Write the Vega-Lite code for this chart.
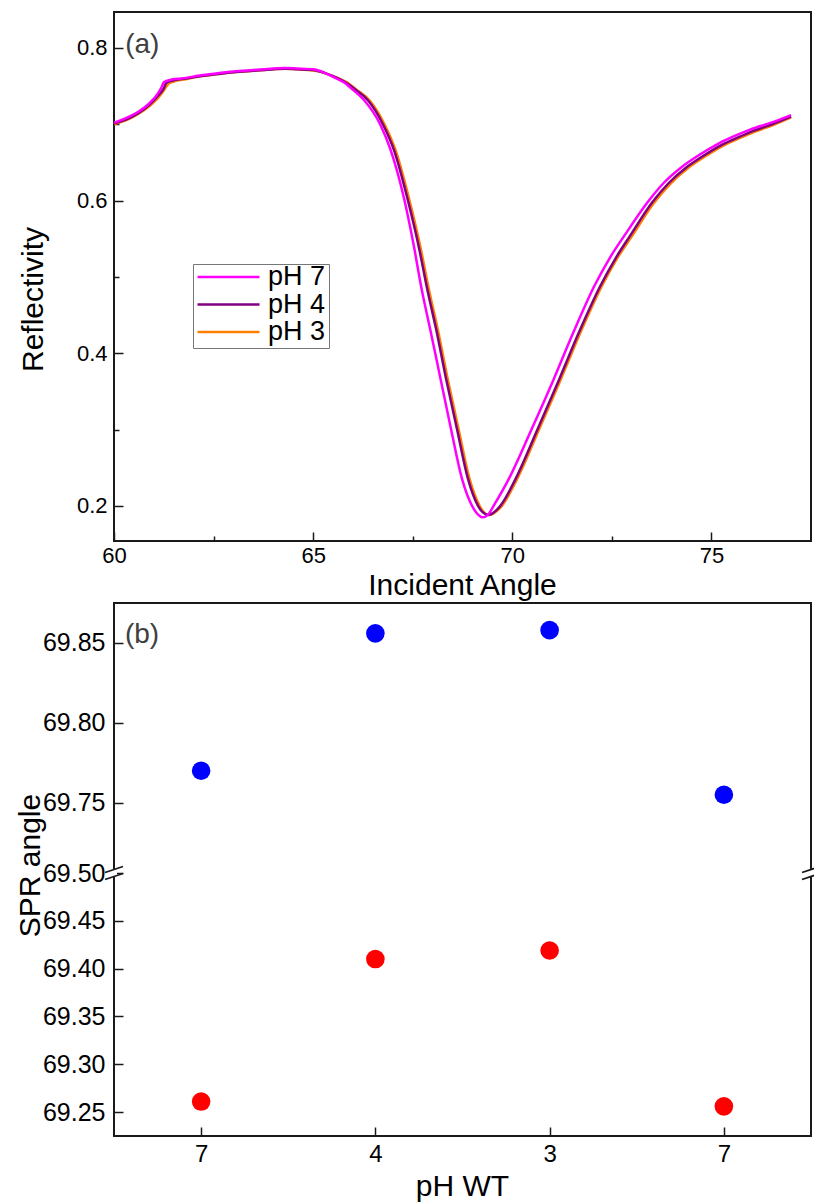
{
  "$schema": "https://vega.github.io/schema/vega-lite/v6.json",
  "autosize": {"type": "pad"},
  "padding": {"left": 14, "top": 11, "right": 2, "bottom": 0},
  "background": "white",
  "spacing": 62,
  "bounds": "flush",
  "resolve": {"scale": {"color": "independent"}, "legend": {"color": "independent"}},
  "datasets": {
    "curves": [
      {"pH": "pH 3", "angle": 60.0, "r": 0.700}, {"pH": "pH 3", "angle": 60.3, "r": 0.705}, {"pH": "pH 3", "angle": 60.6, "r": 0.713},
      {"pH": "pH 3", "angle": 60.9, "r": 0.724}, {"pH": "pH 3", "angle": 61.1, "r": 0.734}, {"pH": "pH 3", "angle": 61.25, "r": 0.744},
      {"pH": "pH 3", "angle": 61.35, "r": 0.752}, {"pH": "pH 3", "angle": 61.5, "r": 0.756}, {"pH": "pH 3", "angle": 61.8, "r": 0.759},
      {"pH": "pH 3", "angle": 62.2, "r": 0.763}, {"pH": "pH 3", "angle": 62.5, "r": 0.765}, {"pH": "pH 3", "angle": 63.0, "r": 0.768},
      {"pH": "pH 3", "angle": 63.5, "r": 0.770}, {"pH": "pH 3", "angle": 64.0, "r": 0.772}, {"pH": "pH 3", "angle": 64.3, "r": 0.7725},
      {"pH": "pH 3", "angle": 64.6, "r": 0.772}, {"pH": "pH 3", "angle": 65.0, "r": 0.7705}, {"pH": "pH 3", "angle": 65.3, "r": 0.767},
      {"pH": "pH 3", "angle": 65.5, "r": 0.763}, {"pH": "pH 3", "angle": 65.9, "r": 0.753}, {"pH": "pH 3", "angle": 66.1, "r": 0.745},
      {"pH": "pH 3", "angle": 66.42, "r": 0.731}, {"pH": "pH 3", "angle": 66.8, "r": 0.699}, {"pH": "pH 3", "angle": 67.07, "r": 0.666},
      {"pH": "pH 3", "angle": 67.42, "r": 0.600}, {"pH": "pH 3", "angle": 67.71, "r": 0.535}, {"pH": "pH 3", "angle": 67.90, "r": 0.485},
      {"pH": "pH 3", "angle": 68.13, "r": 0.431}, {"pH": "pH 3", "angle": 68.38, "r": 0.366}, {"pH": "pH 3", "angle": 68.65, "r": 0.301},
      {"pH": "pH 3", "angle": 68.93, "r": 0.235}, {"pH": "pH 3", "angle": 69.18, "r": 0.200}, {"pH": "pH 3", "angle": 69.28, "r": 0.192},
      {"pH": "pH 3", "angle": 69.42, "r": 0.188}, {"pH": "pH 3", "angle": 69.58, "r": 0.192}, {"pH": "pH 3", "angle": 69.74, "r": 0.200},
      {"pH": "pH 3", "angle": 70.12, "r": 0.235}, {"pH": "pH 3", "angle": 70.68, "r": 0.301}, {"pH": "pH 3", "angle": 71.22, "r": 0.366},
      {"pH": "pH 3", "angle": 71.72, "r": 0.428}, {"pH": "pH 3", "angle": 72.25, "r": 0.488}, {"pH": "pH 3", "angle": 72.63, "r": 0.524},
      {"pH": "pH 3", "angle": 73.0, "r": 0.553}, {"pH": "pH 3", "angle": 73.56, "r": 0.597}, {"pH": "pH 3", "angle": 73.95, "r": 0.621},
      {"pH": "pH 3", "angle": 74.40, "r": 0.642}, {"pH": "pH 3", "angle": 74.82, "r": 0.657}, {"pH": "pH 3", "angle": 75.30, "r": 0.672},
      {"pH": "pH 3", "angle": 75.72, "r": 0.682}, {"pH": "pH 3", "angle": 76.08, "r": 0.690}, {"pH": "pH 3", "angle": 76.55, "r": 0.699},
      {"pH": "pH 3", "angle": 77.0, "r": 0.709},

      {"pH": "pH 4", "angle": 60.0, "r": 0.701}, {"pH": "pH 4", "angle": 60.3, "r": 0.706}, {"pH": "pH 4", "angle": 60.6, "r": 0.714},
      {"pH": "pH 4", "angle": 60.9, "r": 0.726}, {"pH": "pH 4", "angle": 61.1, "r": 0.737}, {"pH": "pH 4", "angle": 61.25, "r": 0.747},
      {"pH": "pH 4", "angle": 61.31, "r": 0.754}, {"pH": "pH 4", "angle": 61.45, "r": 0.757}, {"pH": "pH 4", "angle": 61.8, "r": 0.760},
      {"pH": "pH 4", "angle": 62.2, "r": 0.763}, {"pH": "pH 4", "angle": 62.5, "r": 0.765}, {"pH": "pH 4", "angle": 63.0, "r": 0.768},
      {"pH": "pH 4", "angle": 63.5, "r": 0.770}, {"pH": "pH 4", "angle": 64.0, "r": 0.772}, {"pH": "pH 4", "angle": 64.3, "r": 0.7727},
      {"pH": "pH 4", "angle": 64.6, "r": 0.772}, {"pH": "pH 4", "angle": 65.0, "r": 0.771}, {"pH": "pH 4", "angle": 65.3, "r": 0.767},
      {"pH": "pH 4", "angle": 65.5, "r": 0.763}, {"pH": "pH 4", "angle": 65.87, "r": 0.753}, {"pH": "pH 4", "angle": 66.07, "r": 0.745},
      {"pH": "pH 4", "angle": 66.38, "r": 0.731}, {"pH": "pH 4", "angle": 66.76, "r": 0.699}, {"pH": "pH 4", "angle": 67.03, "r": 0.666},
      {"pH": "pH 4", "angle": 67.38, "r": 0.600}, {"pH": "pH 4", "angle": 67.67, "r": 0.535}, {"pH": "pH 4", "angle": 67.86, "r": 0.485},
      {"pH": "pH 4", "angle": 68.09, "r": 0.431}, {"pH": "pH 4", "angle": 68.34, "r": 0.366}, {"pH": "pH 4", "angle": 68.61, "r": 0.301},
      {"pH": "pH 4", "angle": 68.89, "r": 0.235}, {"pH": "pH 4", "angle": 69.14, "r": 0.200}, {"pH": "pH 4", "angle": 69.25, "r": 0.192},
      {"pH": "pH 4", "angle": 69.40, "r": 0.188}, {"pH": "pH 4", "angle": 69.55, "r": 0.192}, {"pH": "pH 4", "angle": 69.70, "r": 0.200},
      {"pH": "pH 4", "angle": 70.08, "r": 0.235}, {"pH": "pH 4", "angle": 70.64, "r": 0.301}, {"pH": "pH 4", "angle": 71.18, "r": 0.366},
      {"pH": "pH 4", "angle": 71.68, "r": 0.428}, {"pH": "pH 4", "angle": 72.21, "r": 0.488}, {"pH": "pH 4", "angle": 72.59, "r": 0.524},
      {"pH": "pH 4", "angle": 72.96, "r": 0.554}, {"pH": "pH 4", "angle": 73.52, "r": 0.598}, {"pH": "pH 4", "angle": 73.91, "r": 0.622},
      {"pH": "pH 4", "angle": 74.36, "r": 0.643}, {"pH": "pH 4", "angle": 74.78, "r": 0.658}, {"pH": "pH 4", "angle": 75.26, "r": 0.673},
      {"pH": "pH 4", "angle": 75.68, "r": 0.683}, {"pH": "pH 4", "angle": 76.04, "r": 0.691}, {"pH": "pH 4", "angle": 76.52, "r": 0.700},
      {"pH": "pH 4", "angle": 77.0, "r": 0.710},

      {"pH": "pH 7", "angle": 60.0, "r": 0.702}, {"pH": "pH 7", "angle": 60.3, "r": 0.708}, {"pH": "pH 7", "angle": 60.6, "r": 0.716},
      {"pH": "pH 7", "angle": 60.9, "r": 0.728}, {"pH": "pH 7", "angle": 61.1, "r": 0.740}, {"pH": "pH 7", "angle": 61.2, "r": 0.749},
      {"pH": "pH 7", "angle": 61.25, "r": 0.755}, {"pH": "pH 7", "angle": 61.4, "r": 0.758}, {"pH": "pH 7", "angle": 61.7, "r": 0.760},
      {"pH": "pH 7", "angle": 62.2, "r": 0.764}, {"pH": "pH 7", "angle": 62.5, "r": 0.766}, {"pH": "pH 7", "angle": 63.0, "r": 0.769},
      {"pH": "pH 7", "angle": 63.5, "r": 0.771}, {"pH": "pH 7", "angle": 64.0, "r": 0.773}, {"pH": "pH 7", "angle": 64.3, "r": 0.7735},
      {"pH": "pH 7", "angle": 64.6, "r": 0.773}, {"pH": "pH 7", "angle": 65.0, "r": 0.772}, {"pH": "pH 7", "angle": 65.3, "r": 0.767},
      {"pH": "pH 7", "angle": 65.5, "r": 0.762}, {"pH": "pH 7", "angle": 65.8, "r": 0.754}, {"pH": "pH 7", "angle": 66.0, "r": 0.745},
      {"pH": "pH 7", "angle": 66.27, "r": 0.732}, {"pH": "pH 7", "angle": 66.69, "r": 0.699}, {"pH": "pH 7", "angle": 66.94, "r": 0.667},
      {"pH": "pH 7", "angle": 67.29, "r": 0.601}, {"pH": "pH 7", "angle": 67.53, "r": 0.540}, {"pH": "pH 7", "angle": 67.72, "r": 0.485},
      {"pH": "pH 7", "angle": 67.94, "r": 0.431}, {"pH": "pH 7", "angle": 68.20, "r": 0.366}, {"pH": "pH 7", "angle": 68.46, "r": 0.301},
      {"pH": "pH 7", "angle": 68.74, "r": 0.235}, {"pH": "pH 7", "angle": 68.99, "r": 0.200}, {"pH": "pH 7", "angle": 69.10, "r": 0.191},
      {"pH": "pH 7", "angle": 69.25, "r": 0.185}, {"pH": "pH 7", "angle": 69.40, "r": 0.189}, {"pH": "pH 7", "angle": 69.53, "r": 0.200},
      {"pH": "pH 7", "angle": 69.91, "r": 0.235}, {"pH": "pH 7", "angle": 70.49, "r": 0.301}, {"pH": "pH 7", "angle": 71.04, "r": 0.366},
      {"pH": "pH 7", "angle": 71.54, "r": 0.428}, {"pH": "pH 7", "angle": 72.06, "r": 0.488}, {"pH": "pH 7", "angle": 72.45, "r": 0.525},
      {"pH": "pH 7", "angle": 72.84, "r": 0.556}, {"pH": "pH 7", "angle": 73.43, "r": 0.600}, {"pH": "pH 7", "angle": 73.8, "r": 0.623},
      {"pH": "pH 7", "angle": 74.28, "r": 0.645}, {"pH": "pH 7", "angle": 74.7, "r": 0.660}, {"pH": "pH 7", "angle": 75.19, "r": 0.675},
      {"pH": "pH 7", "angle": 75.6, "r": 0.685}, {"pH": "pH 7", "angle": 75.97, "r": 0.693}, {"pH": "pH 7", "angle": 76.5, "r": 0.702},
      {"pH": "pH 7", "angle": 77.0, "r": 0.712}
    ],
    "spr": [
      {"step": 1, "pH": "7", "set": "dry", "angle": 69.770},
      {"step": 2, "pH": "4", "set": "dry", "angle": 69.856},
      {"step": 3, "pH": "3", "set": "dry", "angle": 69.858},
      {"step": 4, "pH": "7", "set": "dry", "angle": 69.755},
      {"step": 1, "pH": "7", "set": "wet", "angle": 69.261},
      {"step": 2, "pH": "4", "set": "wet", "angle": 69.410},
      {"step": 3, "pH": "3", "set": "wet", "angle": 69.419},
      {"step": 4, "pH": "7", "set": "wet", "angle": 69.256}
    ]
  },
  "vconcat": [
    {
      "width": 697,
      "height": 529,
      "layer": [
        {
          "data": {"name": "curves"},
          "mark": {"type": "line", "strokeWidth": 2.5, "interpolate": "monotone"},
          "encoding": {
            "x": {
              "field": "angle", "type": "quantitative",
              "scale": {"domain": [60, 77.5], "nice": false, "zero": false},
              "axis": {
                "title": "Incident Angle",
                "values": [60, 62.5, 65, 67.5, 70, 72.5, 75],
                "labelExpr": "datum.value % 5 === 0 ? datum.label : ''",
                "tickSize": {"condition": {"test": "datum.value % 5 === 0", "value": -9}, "value": -5},
                "labelPadding": 13,
                "titleX": 348, "titleY": 53, "titleBaseline": "alphabetic"
              }
            },
            "y": {
              "field": "r", "type": "quantitative",
              "scale": {"domain": [0.154, 0.847], "nice": false, "zero": false},
              "axis": {
                "title": "Reflectivity",
                "values": [0.2, 0.3, 0.4, 0.5, 0.6, 0.7, 0.8],
                "labelExpr": "round(datum.value * 10) % 2 === 0 ? format(datum.value, '.1f') : ''",
                "tickSize": {"condition": {"test": "round(datum.value * 10) % 2 === 0", "value": -9}, "value": -5},
                "labelPadding": 16,
                "titleX": -81, "titleY": 287, "titleBaseline": "middle", "titleAngle": -90
              }
            },
            "color": {
              "field": "pH", "type": "nominal",
              "scale": {"domain": ["pH 7", "pH 4", "pH 3"], "range": ["#FF00FF", "#800080", "#FF8000"]},
              "legend": {
                "orient": "none", "legendX": 79, "legendY": 252, "title": null,
                "symbolType": "stroke", "symbolSize": 3844, "symbolStrokeWidth": 2.5,
                "labelFont": "Liberation Sans", "labelFontSize": 27, "labelColor": "black", "labelOffset": 7,
                "strokeColor": "#777777", "fillColor": "white", "padding": 3,
                "clipHeight": 20, "rowPadding": 0.5
              }
            }
          }
        },
        {
          "data": {"values": [{"tag": "(a)"}]},
          "mark": {"type": "text", "align": "left", "baseline": "middle", "fontSize": 28, "color": "#404040", "font": "Liberation Sans"},
          "encoding": {
            "x": {"datum": 60.28},
            "y": {"datum": 0.804},
            "text": {"field": "tag"}
          }
        }
      ]
    },
    {
      "width": 697,
      "height": 533,
      "layer": [
        {
          "data": {"name": "spr"},
          "mark": {"type": "circle", "size": 346, "opacity": 1},
          "encoding": {
            "x": {
              "field": "step", "type": "quantitative",
              "scale": {"domain": [0.5, 4.5], "nice": false, "zero": false},
              "axis": {
                "title": "pH WT",
                "values": [1, 2, 3, 4],
                "labelExpr": "['', '7', '4', '3', '7'][datum.value]",
                "tickSize": -9,
                "labelPadding": 15,
                "labelFontSize": 24,
                "titleX": 348, "titleY": 59, "titleBaseline": "alphabetic"
              }
            },
            "y": {
              "field": "angle", "type": "quantitative",
              "scale": {"domain": [69.225, 69.5, 69.706, 69.875], "range": [533, 270, 270, 0], "nice": false, "zero": false},
              "axis": {
                "title": "SPR angle",
                "values": [69.25, 69.3, 69.35, 69.4, 69.45, 69.5, 69.75, 69.8, 69.85],
                "format": ".2f",
                "tickSize": -9,
                "labelPadding": 18,
                "labelFontSize": 25,
                "titleX": -84, "titleY": 262, "titleBaseline": "middle", "titleAngle": -90
              }
            },
            "color": {
              "field": "set", "type": "nominal",
              "scale": {"domain": ["dry", "wet"], "range": ["#0000FF", "#FF0000"]},
              "legend": null
            }
          }
        },
        {
          "data": {"values": [{}]},
          "mark": {"type": "point", "shape": "M-0.3,-0.4L0.3,-0.4L0.3,0.4L-0.3,0.4Z", "filled": true, "color": "white", "opacity": 1, "size": 400, "strokeWidth": 0},
          "encoding": {"x": {"datum": 0.5}, "y": {"datum": 69.5}}
        },
        {
          "data": {"values": [{}]},
          "mark": {"type": "point", "shape": "M-0.3,-0.4L0.3,-0.4L0.3,0.4L-0.3,0.4Z", "filled": true, "color": "white", "opacity": 1, "size": 400, "strokeWidth": 0},
          "encoding": {"x": {"datum": 4.5}, "y": {"datum": 69.5}}
        },
        {
          "data": {"values": [{}]},
          "mark": {"type": "point", "shape": "M-0.9,-0.05L0.9,-0.65M-0.9,0.65L0.9,0.05", "filled": false, "color": "#1a1a1a", "opacity": 1, "size": 400, "strokeWidth": 1.8},
          "encoding": {"x": {"datum": 0.5}, "y": {"datum": 69.5}}
        },
        {
          "data": {"values": [{}]},
          "mark": {"type": "point", "shape": "M-0.9,-0.05L0.9,-0.65M-0.9,0.65L0.9,0.05", "filled": false, "color": "#1a1a1a", "opacity": 1, "size": 400, "strokeWidth": 1.8},
          "encoding": {"x": {"datum": 4.5}, "y": {"datum": 69.5}}
        },
        {
          "data": {"values": [{"tag": "(b)"}]},
          "mark": {"type": "text", "align": "left", "baseline": "middle", "fontSize": 28, "color": "#404040", "font": "Liberation Sans"},
          "encoding": {
            "x": {"datum": 0.563},
            "y": {"datum": 69.855},
            "text": {"field": "tag"}
          }
        }
      ]
    }
  ],
  "config": {
    "font": "Liberation Sans",
    "view": {"stroke": "#1a1a1a", "strokeWidth": 2},
    "axis": {
      "grid": false,
      "domain": false,
      "labelFont": "Liberation Sans",
      "labelFontSize": 22,
      "labelColor": "black",
      "labelFlush": false,
      "labelOverlap": false,
      "titleFont": "Liberation Sans",
      "titleFontSize": 30,
      "titleFontWeight": "normal",
      "titleColor": "black",
      "tickColor": "#1a1a1a",
      "tickWidth": 1.5
    }
  }
}
